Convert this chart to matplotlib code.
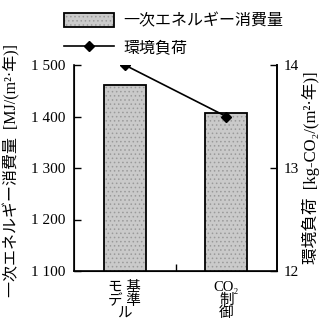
import matplotlib.pyplot as plt
import numpy as np

plt.rcParams['font.family'] = ['Liberation Serif', 'Noto Sans CJK JP', 'DejaVu Sans']

# data
categories = ["モ 基\nデ 準\nル", "CO₂\n制\n御"]
energy = [1461, 1407]          # MJ/(m2·年)
load = [14.0, 13.5]           # kg-CO2/(m2·年)
y_ticks = [1100, 1200, 1300, 1400, 1500]
y_labels = ["1 100", "1 200", "1 300", "1 400", "1 500"]
y2_ticks = [12, 13, 14]

fig = plt.figure(figsize=(3.23, 3.26), dpi=100)
ax = fig.add_axes([74 / 323, 1 - 271 / 326, 203 / 323, 206 / 326])

x = np.arange(len(categories))
plt.rcParams['hatch.linewidth'] = 0.6
bars = ax.bar(x, energy, width=0.41, color="#cacaca", edgecolor="#9a9a9a",
              hatch="....", linewidth=0)
outline = ax.bar(x, energy, width=0.41, fill=False, edgecolor="black", linewidth=1.3)
ax.set_ylim(1100, 1500)
ax.set_xlim(-0.5, 1.5)
ax.set_yticks(y_ticks)
ax.set_yticklabels(y_labels, fontsize=11)
ax.set_xticks(x)
ax.set_xticklabels(categories, fontsize=10.5, linespacing=1.0)
ax.tick_params(axis="x", length=0, pad=7)
ax.set_xticks([0.5], minor=True)
ax.tick_params(axis="x", which="minor", direction="in", length=5, width=1)
ax.tick_params(axis="y", direction="in", length=5, width=1, pad=6)
ax.spines["top"].set_visible(False)
for s in ["left", "bottom", "right"]:
    ax.spines[s].set_linewidth(1.2)
ax.set_ylabel("一次エネルギー消費量  [MJ/(m²·年)]", fontsize=11.5)
ax.yaxis.set_label_coords(-(74 - 20) / 203, 0.49)

ax2 = ax.twinx()
line, = ax2.plot(x, load, color="black", marker="D", markersize=5.5, linewidth=1.2)
ax2.set_ylim(12, 14)
ax2.set_yticks(y2_ticks)
ax2.tick_params(axis="y", direction="in", length=5, width=1, pad=5, labelsize=11)
ax2.spines["top"].set_visible(False)
ax2.spines["right"].set_linewidth(1.2)
ax2.set_ylabel("環境負荷  [kg-CO₂/(m²·年)]", fontsize=12)
ax2.yaxis.set_label_coords(1 + 25 / 203, 0.5)

fig.legend([(bars, outline), line], ["一次エネルギー消費量", "環境負荷"], loc="upper left",
           bbox_to_anchor=(64 / 323, 1 - 13 / 326), frameon=False, fontsize=11.5,
           handlelength=3.1, handleheight=1.0, handletextpad=0.6,
           labelspacing=0.6, borderpad=0, borderaxespad=0)

fig.savefig("out.png", dpi=100)
